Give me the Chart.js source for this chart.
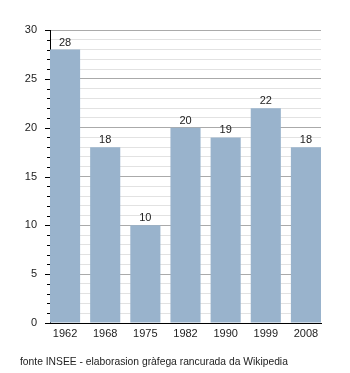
<!DOCTYPE html>
<html>
<head>
<meta charset="utf-8">
<script src="https://cdn.jsdelivr.net/npm/chart.js@4/dist/chart.umd.min.js"></script>
<style>
  html, body { margin: 0; padding: 0; background: #fff; }
  #wrap { position: relative; width: 350px; height: 373px; }
  #chart { position: absolute; left: 0; top: 0; }
  #source {
    position: absolute; left: 20px; top: 356px;
    font: 10.3px "Liberation Sans", Arial, sans-serif; color: #222;
    white-space: nowrap;
  }
</style>
</head>
<body>
<div id="wrap">
  <canvas id="chart" width="350" height="373"></canvas>
  <div id="source">fonte INSEE - elaborasion gràfega rancurada da Wikipedia</div>
</div>
<script>
  // Data
  var years = ['1962', '1968', '1975', '1982', '1990', '1999', '2008'];
  var population = [28, 18, 10, 20, 19, 22, 18];
  var yMax = 30;

  var barColor = '#99b3cc';
  var textFont = { family: '"Liberation Sans", Arial, sans-serif', size: 11 };

  // Value labels above each bar
  var barLabels = {
    id: 'barLabels',
    afterDatasetsDraw: function (chart) {
      var ctx = chart.ctx;
      var meta = chart.getDatasetMeta(0);
      ctx.save();
      ctx.fillStyle = '#222';
      ctx.font = '11px "Liberation Sans", Arial, sans-serif';
      ctx.textAlign = 'center';
      ctx.textBaseline = 'alphabetic';
      meta.data.forEach(function (bar, i) {
        ctx.fillText(String(population[i]), bar.x, bar.y - 4);
      });
      ctx.restore();
    }
  };

  // Y tick marks: long on multiples of 5, short otherwise
  var yTickMarks = {
    id: 'yTickMarks',
    afterDraw: function (chart) {
      var y = chart.scales.y;
      var ctx = chart.ctx;
      var x0 = chart.chartArea.left;
      ctx.save();
      ctx.strokeStyle = '#000';
      ctx.lineWidth = 1;
      y.ticks.forEach(function (t) {
        var py = Math.round(y.getPixelForValue(t.value)) + 0.5;
        var len = t.value % 5 === 0 ? 5 : 3;
        ctx.beginPath();
        ctx.moveTo(x0 - len, py);
        ctx.lineTo(x0, py);
        ctx.stroke();
      });
      ctx.restore();
    }
  };

  new Chart(document.getElementById('chart'), {
    type: 'bar',
    data: {
      datasets: [{
        data: population.map(function (v, i) { return { x: i, y: v }; }),
        backgroundColor: barColor,
        borderWidth: 0,
        barPercentage: 0.75,
        categoryPercentage: 1.0
      }]
    },
    options: {
      responsive: false,
      animation: false,
      layout: { padding: { left: 0, top: 30, right: 29, bottom: 0 } },
      plugins: { legend: { display: false }, tooltip: { enabled: false } },
      scales: {
        x: {
          type: 'linear',
          offset: false,
          min: -0.375,
          max: years.length - 1 + 0.375,
          afterFit: function (s) { s.height = 50; },
          afterBuildTicks: function (s) {
            s.ticks = years.map(function (y, i) { return { value: i }; });
          },
          grid: { display: false, drawTicks: false },
          border: { color: '#000', width: 1 },
          ticks: {
            padding: 4,
            color: '#222',
            font: textFont,
            maxRotation: 0,
            autoSkip: false,
            callback: function (v) { return years[v]; }
          }
        },
        y: {
          min: 0,
          max: yMax,
          afterFit: function (s) { s.width = 50; },
          grid: {
            color: function (c) { return c.tick && c.tick.value % 5 === 0 ? '#aaaaaa' : '#e2e2e2'; },
            drawTicks: false
          },
          border: { color: '#000', width: 1 },
          ticks: {
            stepSize: 1,
            padding: 13,
            color: '#222',
            font: textFont,
            autoSkip: false,
            callback: function (v) { return v % 5 === 0 ? String(v) : ''; }
          }
        }
      }
    },
    plugins: [barLabels, yTickMarks]
  });
</script>
</body>
</html>
